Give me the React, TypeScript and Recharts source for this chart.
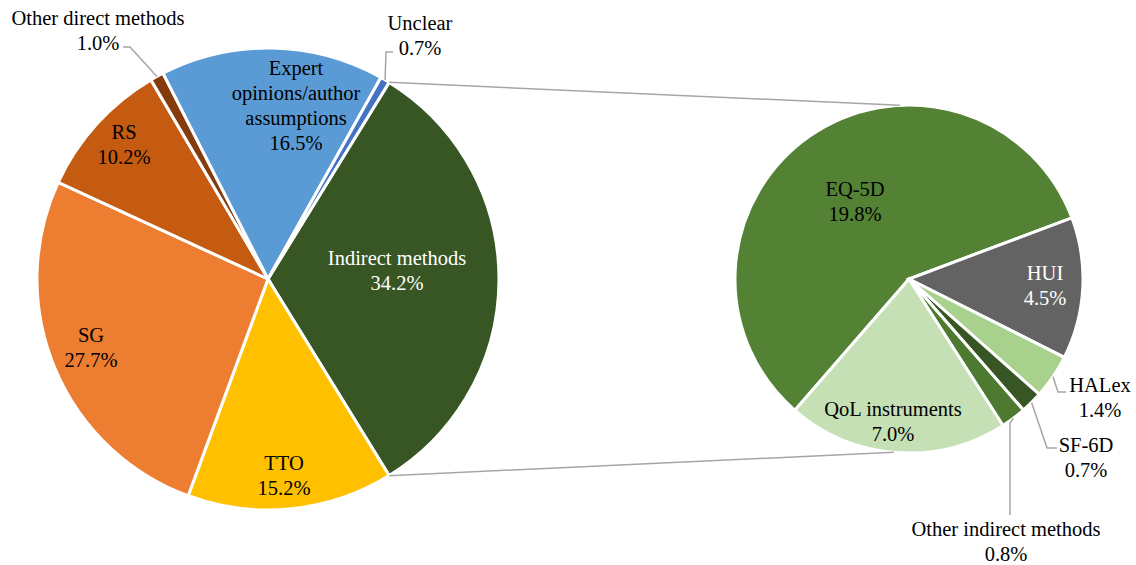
import React from 'react';
import { PieChart, Pie, Cell } from 'recharts';

// ---------- data ----------
const primaryCategories = [
  'Indirect methods',
  'TTO',
  'SG',
  'RS',
  'Other direct methods',
  'Expert opinions/author assumptions',
  'Unclear',
];
const primaryValues = [34.2, 15.2, 27.7, 10.2, 1.0, 16.5, 0.7];

const secondaryCategories = [
  'EQ-5D',
  'HUI',
  'HALex',
  'SF-6D',
  'Other indirect methods',
  'QoL instruments',
];
const secondaryValues = [19.8, 4.5, 1.4, 0.7, 0.8, 7.0];

// ---------- styles ----------
const primaryColors = ['#375623', '#FFC000', '#ED7D31', '#C55A11', '#843C0C', '#5B9BD5', '#4472C4'];
const secondaryColors = ['#548235', '#636363', '#A9D18E', '#375623', '#4D7A30', '#C5E0B4'];

const FONT = "'Liberation Serif', 'Times New Roman', 'DejaVu Serif', serif";
const FONT_SIZE = 20.5;
const LINE_H = 25;
const RAD = Math.PI / 180;

const PRIMARY = { cx: 268, cy: 279, r: 231 };
const SECONDARY = { cx: 909, cy: 279, r: 174 };

type LabelStyle = {
  dx: number;
  dy: number;
  lines: string[];
  color?: string;
  leader?: number[][];
};

const primaryLabelStyle: Record<string, LabelStyle> = {
  'Indirect methods': { dx: 129, dy: -9, lines: ['Indirect methods'], color: '#fff' },
  TTO: { dx: 16, dy: 196, lines: ['TTO'] },
  SG: { dx: -177, dy: 68, lines: ['SG'] },
  RS: { dx: -144, dy: -135, lines: ['RS'] },
  'Other direct methods': {
    dx: -170,
    dy: -249,
    lines: ['Other direct methods'],
    leader: [[32, 17], [25, 17]],
  },
  'Expert opinions/author assumptions': {
    dx: 28,
    dy: -174,
    lines: ['Expert', 'opinions/author', 'assumptions'],
  },
  Unclear: { dx: 152, dy: -244, lines: ['Unclear'], leader: [[-34, 17], [-27, 17]] },
};

const secondaryLabelStyle: Record<string, LabelStyle> = {
  'EQ-5D': { dx: -54, dy: -78, lines: ['EQ-5D'] },
  HUI: { dx: 136, dy: 6, lines: ['HUI'], color: '#fff' },
  HALex: { dx: 191, dy: 118, lines: ['HALex'], leader: [[-42, -5], [-34, -5]] },
  'SF-6D': { dx: 177, dy: 178, lines: ['SF-6D'], leader: [[-39, -9], [-29, -9]] },
  'Other indirect methods': {
    dx: 97,
    dy: 262,
    lines: ['Other indirect methods'],
    leader: [[4, -118], [4, -26]],
  },
  'QoL instruments': { dx: -16, dy: 142, lines: ['QoL instruments'] },
};

const primaryData = primaryCategories.map((name, i) => ({ name, value: primaryValues[i] }));
const secondaryData = secondaryCategories.map((name, i) => ({ name, value: secondaryValues[i] }));

const primarySum = primaryValues.reduce((a, b) => a + b, 0);
const primaryStart = (primaryValues[0] / primarySum) * 180;
const secondaryStart = 229;

const polar = (cx: number, cy: number, r: number, angle: number) => ({
  x: cx + r * Math.cos(-angle * RAD),
  y: cy + r * Math.sin(-angle * RAD),
});

const makeLabel = (styles: Record<string, LabelStyle>, withConnector: boolean) => (props: any) => {
  const { cx, cy, midAngle, outerRadius, startAngle, endAngle, value, index } = props;
  const name = props.name ?? props.payload?.name;
  const st = styles[name];
  if (!st) return null;
  const x = cx + st.dx;
  const y = cy + st.dy;
  const all = [...st.lines, `${Number(value).toFixed(1)}%`];
  const y0 = y - ((all.length - 1) * LINE_H) / 2;
  let leader: React.ReactNode = null;
  if (st.leader) {
    const e = polar(cx, cy, outerRadius, midAngle);
    const pts = [[e.x, e.y], ...st.leader.map(([px, py]) => [x + px, y + py])];
    leader = (
      <polyline
        points={pts.map((p) => p.join(',')).join(' ')}
        fill="none"
        stroke="#A6A6A6"
        strokeWidth={1.5}
      />
    );
  }
  let connector: React.ReactNode = null;
  if (withConnector && index === 0) {
    const a = polar(cx, cy, outerRadius, startAngle);
    const b = polar(cx, cy, outerRadius, endAngle);
    const t = polar(SECONDARY.cx, SECONDARY.cy, SECONDARY.r, 93);
    const bt = polar(SECONDARY.cx, SECONDARY.cy, SECONDARY.r, -95);
    connector = (
      <g>
        <line x1={a.x} y1={a.y} x2={t.x} y2={t.y} stroke="#A6A6A6" strokeWidth={1.5} />
        <line x1={b.x} y1={b.y} x2={bt.x} y2={bt.y} stroke="#A6A6A6" strokeWidth={1.5} />
      </g>
    );
  }
  return (
    <g>
      {connector}
      {leader}
      {all.map((t, k) => (
        <text
          key={k}
          x={x}
          y={y0 + k * LINE_H}
          textAnchor="middle"
          dominantBaseline="central"
          style={{ fontFamily: FONT, fontSize: FONT_SIZE, fill: st.color ?? '#000', stroke: 'none' }}
        >
          {t}
        </text>
      ))}
    </g>
  );
};

export default function App() {
  return (
    <div
      style={{
        position: 'absolute',
        left: 0,
        top: 0,
        width: 1136,
        height: 565,
        background: '#fff',
        fontFamily: FONT,
      }}
    >
      <PieChart width={1136} height={565} margin={{ top: 0, right: 0, bottom: 0, left: 0 }}>
        <Pie
          data={primaryData}
          dataKey="value"
          nameKey="name"
          cx={PRIMARY.cx}
          cy={PRIMARY.cy}
          outerRadius={PRIMARY.r}
          startAngle={primaryStart}
          endAngle={primaryStart - 360}
          stroke="#fff"
          strokeWidth={3}
          labelLine={false}
          label={makeLabel(primaryLabelStyle, true)}
          isAnimationActive={false}
        >
          {primaryData.map((d, i) => (
            <Cell key={d.name} fill={primaryColors[i]} />
          ))}
        </Pie>
        <Pie
          data={secondaryData}
          dataKey="value"
          nameKey="name"
          cx={SECONDARY.cx}
          cy={SECONDARY.cy}
          outerRadius={SECONDARY.r}
          startAngle={secondaryStart}
          endAngle={secondaryStart - 360}
          stroke="#fff"
          strokeWidth={3}
          labelLine={false}
          label={makeLabel(secondaryLabelStyle, false)}
          isAnimationActive={false}
        >
          {secondaryData.map((d, i) => (
            <Cell key={d.name} fill={secondaryColors[i]} />
          ))}
        </Pie>
      </PieChart>
    </div>
  );
}
